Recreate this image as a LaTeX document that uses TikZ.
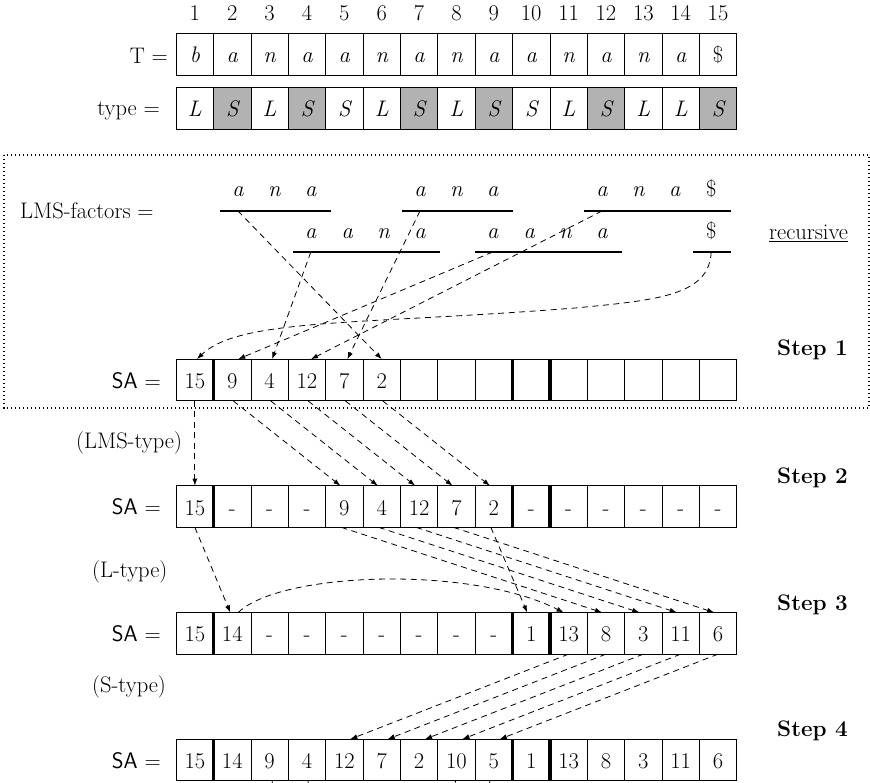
\documentclass[tikz,border=0pt]{standalone}
\usepackage{fontspec}
\usetikzlibrary{arrows.meta}
\begin{document}
\begin{tikzpicture}[x=1pt,y=-1pt,
  every node/.style={font=\fontsize{22.5}{27}\selectfont},
  cellbox/.style={draw, line width=0.8pt, minimum width=37.37pt, minimum height=41.7pt, inner sep=0pt, outer sep=0pt, text height=17pt, text depth=0pt},
  gcell/.style={fill=gray!60},
  wcell/.style={},
  dasharr/.style={dash pattern=on 6pt off 4.5pt, line width=0.8pt, -{Latex[length=7pt,width=5pt]}},
  dline/.style={dash pattern=on 6pt off 4.5pt, line width=0.8pt},
  lmsbar/.style={line width=2.6pt},
  bucketsep/.style={line width=3.5pt},
  lab/.style={anchor=base east, inner sep=0pt},
  labw/.style={anchor=base west, inner sep=0pt},
  lmsframe/.style={dash pattern=on 1.3pt off 2.7pt, line width=1.3pt}
]
\useasboundingbox (0,0) rectangle (870,783);
\clip (0,0) rectangle (870,783);

% column numbers
\foreach \i in {1,...,15}
  \node[anchor=base, inner sep=0pt] (num\i) at ({176.2+37.37*(\i-0.5)},20.7) {\i};

% T row
\foreach \v [count=\i] in {b,a,n,a,a,n,a,n,a,a,n,a,n,a}
  \node[cellbox] (t\i) at ({176.2+37.37*(\i-0.5)},54.2) {\itshape\v};
\node[cellbox] (t15) at ({176.2+37.37*14.5},54.2) {\$};
\node[lab] (tlab) at (168,63.3) {T =};

% type row
\foreach \v/\s [count=\i] in {L/wcell,S/gcell,L/wcell,S/gcell,S/wcell,L/wcell,S/gcell,L/wcell,S/gcell,S/wcell,L/wcell,S/gcell,L/wcell,L/wcell,S/gcell}
  \node[cellbox,\s] (ty\i) at ({176.2+37.37*(\i-0.5)},108.3) {\itshape\v};
\node[lab] (tylab) at (160,116) {type =};

% LMS factors
\draw[lmsframe] (4,155) rectangle (869,408);
\node[labw] (lmslab) at (20,219) {LMS-factors =};
\foreach \c/\v in {2/a,3/n,4/a,7/a,8/n,9/a,12/a,13/n,14/a}
  \node[anchor=base, inner sep=0pt] (la\c) at ({238+36.4*(\c-2)},197) {\itshape\v};
\node[anchor=base, inner sep=0pt] (la15) at ({238+36.4*13},197) {\$};
\foreach \c/\v in {4/a,5/a,6/n,7/a,9/a,10/a,11/n,12/a}
  \node[anchor=base, inner sep=0pt] (lb\c) at ({238+36.4*(\c-2)},238.3) {\itshape\v};
\node[anchor=base, inner sep=0pt] (lb15) at ({238+36.4*13},238.3) {\$};
\foreach \a/\b/\yy/\nm in {2/4/211/f2, 7/9/211/f7, 12/15/211/f12, 4/7/252/f4, 9/12/252/f9, 15/15/252/f15} {
  \coordinate (\nm) at ({238+36.4*(\a-2)},\yy);
  \coordinate (\nm-l) at ({238+36.4*(\a-2)-18},\yy);
  \coordinate (\nm-r) at ({238+36.4*(\b-2)+20},\yy);
  \draw[lmsbar] (\nm-l) -- (\nm-r);
}
\node[labw] (rec) at (769,240) {\underline{recursive}};

% SA rows
\foreach \v [count=\i] in {15,9,4,12,7,2,{},{},{},{},{},{},{},{},{}}
  \node[cellbox] (sA\i) at ({176.2+37.37*(\i-0.5)},380) {\v};
\foreach \v [count=\i] in {15,-,-,-,9,4,12,7,2,-,-,-,-,-,-}
  \node[cellbox] (sB\i) at ({176.2+37.37*(\i-0.5)},506.5) {\v};
\foreach \v [count=\i] in {15,14,-,-,-,-,-,-,-,1,13,8,3,11,6}
  \node[cellbox] (sC\i) at ({176.2+37.37*(\i-0.5)},633.3) {\v};
\foreach \v [count=\i] in {15,14,9,4,12,7,2,10,5,1,13,8,3,11,6}
  \node[cellbox] (sD\i) at ({176.2+37.37*(\i-0.5)},760) {\v};
\foreach \R in {sA,sB,sC,sD}
  \foreach \k in {1,9,10}
    \draw[bucketsep] (\R\k.north east) -- (\R\k.south east);

\node[lab] (lsA) at (161,388.3) {\textsf{SA} =};
\node[lab] (lsB) at (161,514.8) {\textsf{SA} =};
\node[lab] (lsC) at (161,641.6) {\textsf{SA} =};
\node[lab] (lsD) at (161,768.3) {\textsf{SA} =};

\node[labw] (st1) at (777,356) {\textbf{Step 1}};
\node[labw] (st2) at (777,483) {\textbf{Step 2}};
\node[labw] (st3) at (777,610) {\textbf{Step 3}};
\node[labw] (st4) at (777,736) {\textbf{Step 4}};

\node[labw] (tyLMS) at (76,448) {(LMS-type)};
\node[labw] (tyL) at (92,577) {(L-type)};
\node[labw] (tyS) at (92,692) {(S-type)};

% LMS factors -> step 1
\draw[dasharr] (f2) -- (sA6.north);
\draw[dasharr] (f4) -- ([xshift=2.5pt]sA3.north);
\draw[dasharr] (f7) -- ([xshift=3pt]sA5.north);
\draw[dasharr] (f9) -- ([xshift=6pt]sA2.north);
\draw[dasharr] (f12) -- ([xshift=4pt]sA4.north);
\coordinate (fmid) at (575,308);
\draw[dasharr] (f15) .. controls (709,295) and (660,300) .. (fmid) .. controls (360,325) and (240,318) .. ([xshift=2pt]sA1.north);

% step 1 -> step 2
\draw[dasharr] (sA1.south) -- (sB1.north);
\foreach \a/\b in {2/5,3/6,4/7,5/8,6/9}
  \draw[dasharr] ([xshift=1pt]sA\a.south) -- ([xshift=-4pt]sB\b.north);

% step 2 -> step 3
\draw[dasharr] (sB1.south) -- ([xshift=-2pt]sC2.north);
\draw[dasharr] ([xshift=6pt]sC2.north) .. controls (280,572) and (470,565) .. ([xshift=-5pt]sC11.north);
\foreach \a/\b in {5/12,6/13,7/14,8/15,9/10}
  \draw[dasharr] ([xshift=-3pt]sB\a.south) -- ([xshift=-4pt]sC\b.north);

% step 3 -> step 4
\foreach \a/\b in {11/5,12/6,13/7,14/8,15/9}
  \draw[dasharr] (sC\a.south) -- ([xshift=6pt]sD\b.north);

% continuing (clipped) connectors below step 4
\draw[dline] ([xshift=-1pt]sD8.south) .. controls +(0,40) and +(0,40) .. ([xshift=1pt]sD4.south);
\draw[dline] ([xshift=-4pt]sD9.south) .. controls +(0,60) and +(0,60) .. ([xshift=2.5pt]sD3.south);
\end{tikzpicture}
\end{document}
